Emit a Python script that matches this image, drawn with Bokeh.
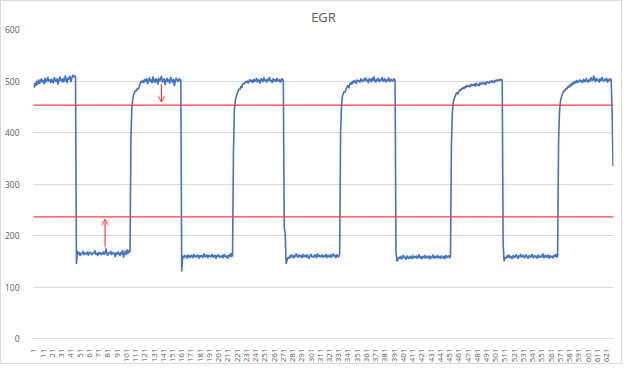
import math
from bokeh.plotting import figure
from bokeh.models import Range1d, FixedTicker, Span, Arrow, OpenHead, ColumnDataSource
from bokeh.embed import file_html
from bokeh.resources import INLINE

title_text = "EGR"

seg_a = [486, 496, 490, 500, 493, 503, 495, 499, 505, 497, 502, 494, 506, 498, 501, 508, 499, 503, 496, 504,
         500, 495, 507, 502, 498, 505, 493, 501, 509, 500, 504, 497, 506, 499, 511, 502, 496, 507, 503, 510,
         498, 505, 512, 508, 509, 510]
seg_b = [145, 170, 163, 168, 160, 166, 164, 170, 162, 167, 165, 163, 169, 161, 166, 168, 164, 162, 167, 165,
         171, 163, 166, 160, 168, 164, 167, 162, 165, 169, 163, 166, 175, 164, 161, 167, 165, 170, 162, 168,
         164, 166, 158, 167, 163, 169, 165, 160, 168, 163, 172, 157, 166, 170, 162, 173, 165, 171, 168]
seg_c = [390, 448, 466, 474, 478, 482, 480, 486, 484, 489, 495, 500, 497, 502, 496, 504, 499, 505, 494, 501,
         507, 498, 503, 496, 509, 500, 497, 505, 502, 493, 506, 499, 503, 510, 497, 501, 505, 492, 500, 506,
         498, 503, 495, 508, 501, 497, 504, 490, 500, 506, 502, 498, 505, 500, 503]
seg_d = [130, 160, 156, 162, 158, 161, 155, 163, 159, 157, 162, 160, 156, 164, 158, 161, 157, 163, 160, 155,
         162, 159, 161, 157, 165, 158, 160, 163, 156, 162, 159, 161, 158, 164, 157, 160, 162, 155, 161, 159,
         163, 157, 160, 158, 162, 156, 164, 160, 158, 161, 155, 163, 159, 166, 158, 162]
seg_e = [360, 445, 462, 470, 476, 480, 485, 483, 490, 487, 493, 496, 494, 499, 497, 501, 495, 500, 503, 498,
         502, 496, 504, 499, 501, 506, 497, 503, 500, 495, 505, 502, 498, 507, 500, 503, 497, 504, 501, 508,
         499, 502, 496, 505, 500, 503, 498, 506, 501, 499, 504, 497, 502, 505, 500]
seg_f = [215, 205, 145, 152, 158, 155, 161, 157, 163, 159, 156, 162, 158, 165, 160, 157, 163, 159, 161, 156,
         164, 158, 160, 162, 157, 163, 159, 155, 161, 164, 158, 160, 157, 163, 161, 156, 165, 159, 162, 158,
         160, 163, 157, 161, 159, 164, 156, 162, 160, 158, 163, 157, 161, 165, 159, 162, 156, 163, 160, 158,
         164]
seg_g = [400, 452, 470, 476, 480, 478, 485, 488, 492, 486, 494, 497, 493, 500, 496, 502, 498, 495, 503, 499,
         501, 497, 505, 500, 498, 504, 501, 507, 499, 503, 496, 505, 502, 498, 506, 500, 509, 501, 497, 504,
         500, 506, 498, 503, 501, 508, 499, 502, 505, 497, 503, 500, 507, 498, 502, 504, 499, 501, 505, 500]
seg_h = [168, 150, 153, 158, 155, 160, 154, 157, 162, 156, 159, 153, 161, 157, 155, 160, 158, 154, 162, 156,
         159, 157, 161, 155, 158, 163, 156, 160, 154, 159, 157, 162, 155, 158, 160, 156, 161, 154, 159, 157,
         163, 155, 160, 158, 156, 162, 157, 159, 155, 161, 158, 156, 160, 154, 162, 157, 159, 161, 156, 160]
seg_i = [375, 438, 458, 466, 470, 475, 478, 474, 480, 483, 481, 486, 484, 488, 485, 490, 487, 492, 489, 491,
         488, 494, 490, 493, 491, 495, 489, 496, 492, 494, 490, 497, 493, 495, 498, 494, 497, 492, 499, 496,
         498, 495, 500, 497, 501, 498, 496, 502, 499, 501, 503, 500, 502, 504, 501, 503]
seg_j = [185, 150, 158, 155, 161, 157, 163, 156, 160, 158, 154, 162, 159, 157, 163, 160, 155, 161, 158, 164,
         157, 160, 162, 156, 159, 163, 158, 155, 161, 160, 157, 164, 159, 156, 162, 158, 160, 155, 163, 159,
         157, 161, 158, 165, 156, 160, 162, 157, 159, 163, 155, 161, 158, 160, 156, 162, 159, 164, 157, 161]
seg_k = [380, 440, 460, 468, 474, 478, 482, 480, 486, 484, 490, 487, 493, 489, 496, 492, 498, 494, 500, 496,
         502, 497, 499, 503, 498, 501, 496, 504, 500, 498, 505, 501, 497, 503, 499, 507, 502, 500, 510, 504,
         498, 506, 501, 503, 497, 505, 500, 508, 502, 499, 504, 501, 506, 497, 503, 500, 505, 502, 440, 335]

egr_values = seg_a + seg_b + seg_c + seg_d + seg_e + seg_f + seg_g + seg_h + seg_i + seg_j + seg_k
sample_index = list(range(1, len(egr_values) + 1))

x_tick_values = list(range(1, 622, 10))
y_tick_values = [0, 100, 200, 300, 400, 500, 600]

upper_limit = 453
lower_limit = 236

arrow_x = [78, 139]
arrow_y_start = [178, 494]
arrow_y_end = [232, 459]

GRAY_TEXT = "#595959"
FONT = "Open Sans"

p = figure(width=622, height=364, output_backend="svg", toolbar_location=None,
           x_range=Range1d(0.5, len(egr_values) + 0.5), y_range=Range1d(0, 600),
           min_border_left=6, min_border_right=10, min_border_top=6, min_border_bottom=4)
p.styles = {"border": "1px solid #d9d9d9"}

p.title.text = title_text
p.title.align = "center"
p.title.text_font = FONT
p.title.text_font_size = "13px"
p.title.text_font_style = "normal"
p.title.text_color = GRAY_TEXT
p.title.standoff = 8

p.outline_line_color = None
p.background_fill_color = "white"
p.border_fill_color = "white"

p.xgrid.grid_line_color = None
p.ygrid.grid_line_color = "#d9d9d9"
p.ygrid.grid_line_width = 1

p.yaxis.ticker = FixedTicker(ticks=y_tick_values)
p.yaxis.axis_line_color = None
p.yaxis.major_tick_line_color = None
p.yaxis.minor_tick_line_color = None
p.yaxis.major_label_text_font = FONT
p.yaxis.major_label_text_font_size = "8.5px"
p.yaxis.major_label_text_color = GRAY_TEXT
p.yaxis.major_label_standoff = 8

p.xaxis.ticker = FixedTicker(ticks=x_tick_values)
p.xaxis.axis_line_color = "#d9d9d9"
p.xaxis.major_tick_line_color = None
p.xaxis.minor_tick_line_color = None
p.xaxis.major_label_orientation = math.pi / 2
p.xaxis.major_label_text_font = FONT
p.xaxis.major_label_text_font_size = "8px"
p.xaxis.major_label_text_color = GRAY_TEXT
p.xaxis.major_label_standoff = 4

p.line(sample_index, egr_values, line_color="#4472C4", line_width=1.6)

for lim in (upper_limit, lower_limit):
    p.add_layout(Span(location=lim, dimension="width", line_color="#ff3c3c", line_width=1.3))

arrow_src = ColumnDataSource(dict(x=arrow_x, y0=arrow_y_start, y1=arrow_y_end))
p.add_layout(Arrow(end=OpenHead(size=6, line_color="#ff3c3c", line_width=1),
                   x_start="x", y_start="y0", x_end="x", y_end="y1",
                   line_color="#ff3c3c", line_width=1.2, source=arrow_src))

open("out.html", "w").write(file_html(p, INLINE))
